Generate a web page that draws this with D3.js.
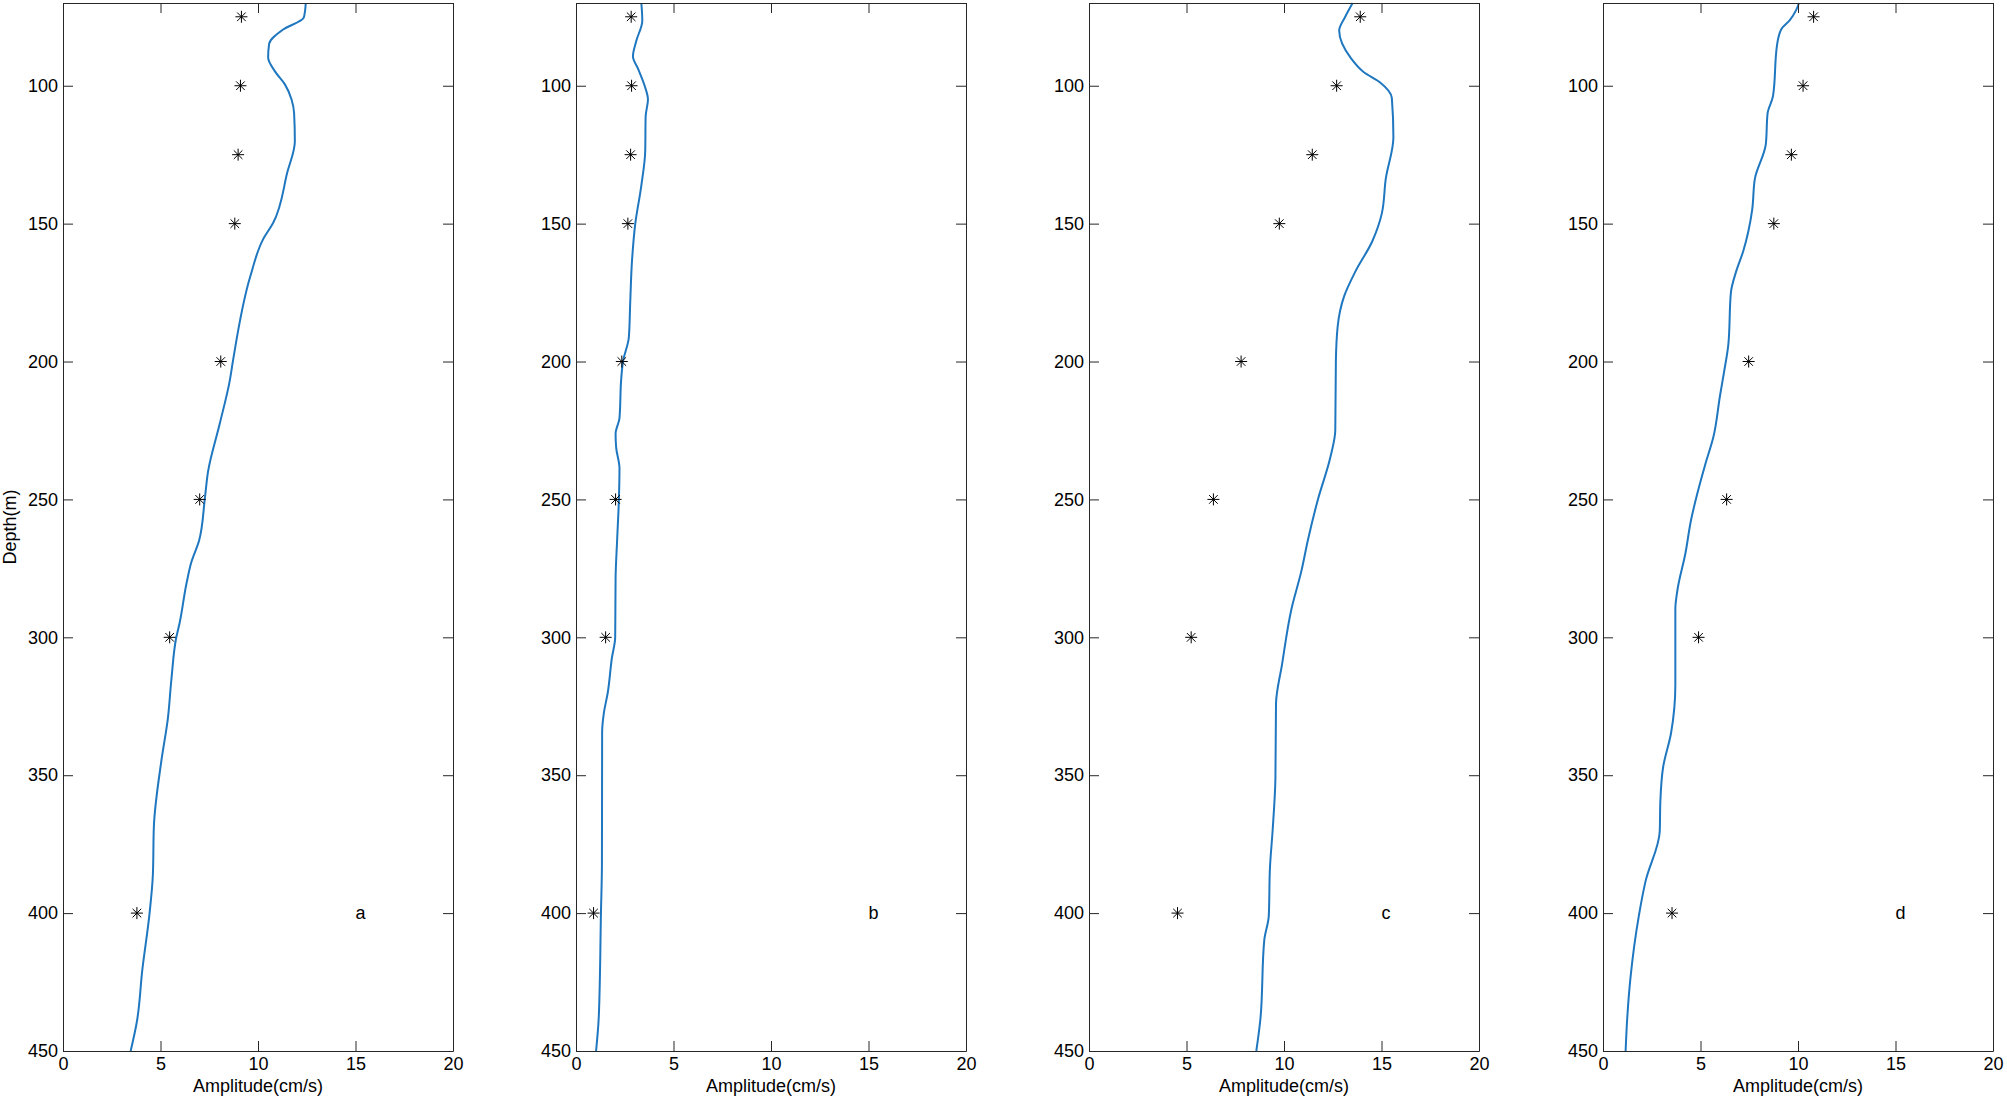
<!DOCTYPE html>
<html>
<head>
<meta charset="utf-8">
<script src="https://cdn.jsdelivr.net/npm/d3@7"></script>
<style>
  body { margin: 0; background: #fff; }
  svg { display: block; font-family: "Liberation Sans", Arial, sans-serif; }
</style>
</head>
<body>
<script>
// depth profiles of amplitude, four panels (a-d)
var panelNames = ["a", "b", "c", "d"];
var xTicks = [0, 5, 10, 15, 20];
var yTicks = [100, 150, 200, 250, 300, 350, 400, 450];

// observed points (asterisks)
var starDepths = [75, 100, 125, 150, 200, 250, 300, 400];
var starsA = [9.15, 9.10, 8.98, 8.81, 8.09, 7.01, 5.47, 3.79];
var starsB = [2.83, 2.85, 2.80, 2.66, 2.35, 2.03, 1.52, 0.90];
var starsC = [13.91, 12.70, 11.45, 9.76, 7.80, 6.38, 5.24, 4.54];
var starsD = [10.80, 10.26, 9.66, 8.76, 7.47, 6.34, 4.90, 3.54];

// model profiles (blue lines)
var depthA = [70, 75.3, 79.6, 84.8, 89.8, 94.7, 99.5, 105, 109.8, 120.1, 131.5, 149.7, 155.7, 169, 199.6, 207, 222.5, 239.8, 250, 264.9, 272.8, 280.6, 294.8, 300, 315.2, 329.3, 345, 368.6, 385.9, 400, 420.4, 439.3, 450];
var ampA = [12.45, 12.35, 11.29, 10.57, 10.52, 10.86, 11.38, 11.72, 11.85, 11.89, 11.5, 10.78, 10.26, 9.61, 8.72, 8.55, 8.04, 7.44, 7.27, 6.98, 6.58, 6.33, 5.98, 5.81, 5.56, 5.38, 5.04, 4.66, 4.61, 4.44, 4.07, 3.79, 3.47];

var depthB = [70, 76.3, 83.8, 89.4, 93.8, 100, 105, 111.2, 123.7, 136.2, 150, 163.7, 178.7, 191.2, 200, 206.2, 220.5, 226.2, 231.2, 238.7, 250, 264.6, 278.5, 300, 307.5, 320, 327.4, 334.3, 382.4, 399.8, 437.3, 450];
var ampB = [3.35, 3.40, 3.09, 2.92, 3.18, 3.52, 3.69, 3.57, 3.55, 3.35, 3.04, 2.87, 2.78, 2.71, 2.41, 2.32, 2.23, 2.03, 2.06, 2.23, 2.20, 2.11, 2.03, 2.01, 1.84, 1.63, 1.43, 1.34, 1.33, 1.28, 1.17, 1.03];

var depthC = [70, 75, 80, 90, 95, 98.8, 104.4, 118.7, 133.7, 146.2, 156.2, 167.5, 176.2, 187.4, 200, 224.9, 234.9, 250, 264.6, 276, 289.8, 309.8, 324.1, 351, 369.7, 383.5, 401, 409.7, 438.4, 450];
var ampC = [13.52, 13.14, 12.83, 13.43, 14.08, 14.93, 15.53, 15.61, 15.22, 15.02, 14.54, 13.65, 13.09, 12.75, 12.66, 12.63, 12.37, 11.74, 11.23, 10.89, 10.38, 9.90, 9.59, 9.56, 9.42, 9.28, 9.22, 8.99, 8.79, 8.58];

var depthD = [70, 72.5, 76.3, 79.4, 85, 103.7, 110, 121.2, 133.7, 145, 160, 167.5, 174.9, 193.7, 203.7, 212.4, 227.4, 237.4, 248.6, 257.3, 269.8, 282.3, 289.8, 317.3, 334.7, 347.2, 359.7, 370.3, 388.5, 400.9, 423.4, 438.4, 450];
var ampD = [10.05, 9.91, 9.57, 9.15, 8.93, 8.72, 8.44, 8.35, 7.79, 7.65, 7.19, 6.82, 6.56, 6.43, 6.21, 6.00, 5.66, 5.24, 4.81, 4.52, 4.22, 3.83, 3.71, 3.71, 3.49, 3.08, 2.94, 2.91, 2.18, 1.84, 1.41, 1.24, 1.16];

var panels = [
  { name: panelNames[0], depth: depthA, amp: ampA, stars: starsA },
  { name: panelNames[1], depth: depthB, amp: ampB, stars: starsB },
  { name: panelNames[2], depth: depthC, amp: ampC, stars: starsC },
  { name: panelNames[3], depth: depthD, amp: ampD, stars: starsD }
];

var width = 2007,
    height = 1101;

var panelLeft = [63, 576, 1089, 1603],
    panelTop = 3,
    pw = 390,
    ph = 1048;

var axisColor = "#262626",
    lineColor = "#1f77c0";

var svg = d3.select("body").append("svg")
    .attr("width", width)
    .attr("height", height);

var x = d3.scaleLinear().domain([0, 20]).range([0, pw]);
var y = d3.scaleLinear().domain([70, 450]).range([0, ph]);

// depth always increases, so monotone in y keeps it smooth without overshoot
var line = d3.line()
    .curve(d3.curveMonotoneY)
    .x(function(d) { return x(d[1]); })
    .y(function(d) { return y(d[0]); });

// asterisk marker like matlab '*'
var r = 6, k = 4.3;
var starPath = "M" + (-r) + ",0H" + r + "M0," + (-r) + "V" + r +
    "M" + (-k) + "," + (-k) + "L" + k + "," + k +
    "M" + (-k) + "," + k + "L" + k + "," + (-k);

function styleAxis(g) {
  g.selectAll("path, line").attr("stroke", axisColor).attr("stroke-width", 1);
  g.selectAll("text").attr("fill", "#000").style("font-size", "18px");
}

panels.forEach(function(p, i) {
  var g = svg.append("g")
      .attr("transform", "translate(" + panelLeft[i] + "," + panelTop + ")");

  // white plot area
  g.append("rect")
      .attr("width", pw)
      .attr("height", ph)
      .attr("fill", "#fff");

  // profile line
  g.append("path")
      .datum(d3.zip(p.depth, p.amp))
      .attr("fill", "none")
      .attr("stroke", lineColor)
      .attr("stroke-width", 2)
      .attr("stroke-linejoin", "round")
      .attr("d", line);

  // observed stars
  g.selectAll(".star")
      .data(d3.zip(starDepths, p.stars))
      .enter().append("path")
        .attr("class", "star")
        .attr("transform", function(d) { return "translate(" + x(d[1]) + "," + y(d[0]) + ")"; })
        .attr("d", starPath)
        .attr("fill", "none")
        .attr("stroke", "#000")
        .attr("stroke-width", 1);

  // axes, ticks inward on all four sides
  g.append("g")
      .attr("transform", "translate(0," + ph + ")")
      .call(d3.axisBottom(x).tickValues(xTicks).tickSizeInner(-10).tickSizeOuter(0).tickPadding(6))
      .call(styleAxis);

  g.append("g")
      .call(d3.axisLeft(y).tickValues(yTicks).tickSizeInner(-10).tickSizeOuter(0).tickPadding(5))
      .call(styleAxis);

  g.append("g")
      .call(d3.axisTop(x).tickValues(xTicks).tickSizeInner(-10).tickSizeOuter(0).tickFormat(""))
      .call(styleAxis);

  g.append("g")
      .attr("transform", "translate(" + pw + ",0)")
      .call(d3.axisRight(y).tickValues(yTicks).tickSizeInner(-10).tickSizeOuter(0).tickFormat(""))
      .call(styleAxis);

  // panel letter
  g.append("text")
      .attr("x", x(15))
      .attr("y", y(400))
      .attr("dy", "0.35em")
      .style("font-size", "18px")
      .text(p.name);

  // x label
  g.append("text")
      .attr("x", pw / 2)
      .attr("y", ph + 41)
      .attr("text-anchor", "middle")
      .style("font-size", "18px")
      .text("Amplitude(cm/s)");

  if (i === 0) {
    g.append("text")
        .attr("transform", "translate(" + (16 - panelLeft[i]) + "," + (ph / 2) + ") rotate(-90)")
        .attr("text-anchor", "middle")
        .style("font-size", "18px")
        .text("Depth(m)");
  }
});
</script>
</body>
</html>
